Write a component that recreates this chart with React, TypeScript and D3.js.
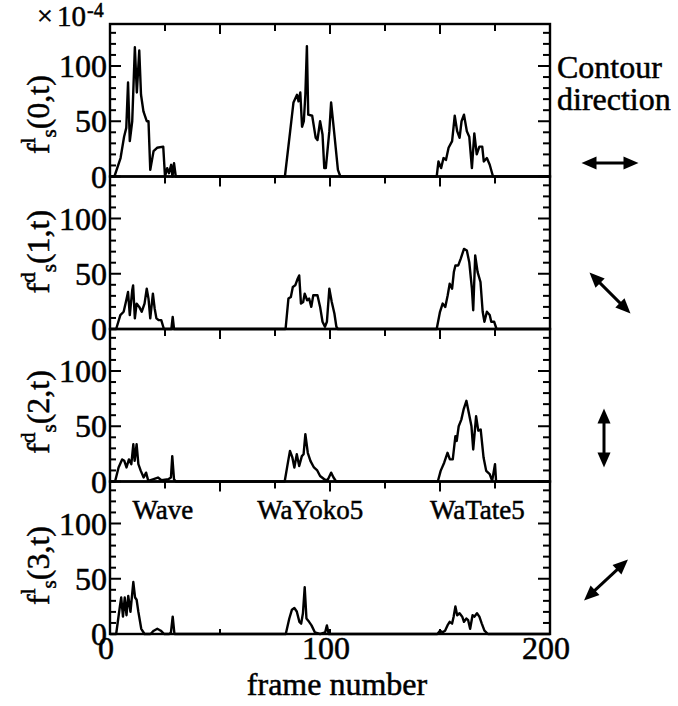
import React from 'react'
import * as d3 from 'd3'

// contour-direction feature f_s(k,t), values in units of 1e-4 as [frame, value]
const dir0: [number, number][] = [
  [0, 0], [2, 0], [4.8, 16.7], [6.4, 36], [7.4, 44], [8.2, 85], [9, 32], [10.1, 50], [11.3, 117],
  [12.2, 76], [13.3, 114], [14.1, 74], [15.2, 59], [16.7, 50], [17.5, 50], [18.3, 6], [19.8, 23],
  [21.4, 26], [24.2, 27], [25, 0], [26, 7.6], [26.8, 3], [27.8, 10.6], [28.4, 0], [29.1, 12], [29.9, 0],
  [79.5, 0], [81.9, 41], [83.4, 67], [85, 74], [85.7, 68], [86.5, 76], [87.3, 45], [88.1, 50], [88.8, 74],
  [89.5, 118], [90.1, 56], [91.9, 55], [93.5, 35], [94.3, 33], [95.5, 50], [96.6, 38], [97.4, 7.6],
  [98.1, 7.6], [99.7, 41], [100.5, 67], [102, 38], [103.6, 6], [104.7, 0],
  [148.5, 0], [149.3, 13.6], [150.5, 7.6], [151.6, 16.7], [152.7, 15], [153.9, 26], [155.5, 32],
  [156.7, 55], [157.8, 41], [158.9, 35], [159.8, 50], [160.9, 56], [162.2, 41], [163.3, 36], [164.5, 7.6],
  [165.6, 39], [166.7, 20], [167.9, 27], [169.2, 27], [169.9, 13.6], [171.3, 16.7], [172.6, 10.6],
  [174.1, 0], [200, 0]
]
const dir1: [number, number][] = [
  [0, 0], [2.8, 0], [4.7, 12.6], [6.2, 15.6], [7.4, 26], [8.2, 33.5], [9, 12.6], [10.1, 35], [10.5, 39.5],
  [11.3, 9.6], [12.1, 23], [13.3, 20], [14.4, 15.6], [15.7, 23], [16.7, 36.5], [17.5, 27.5], [18.3, 9.6],
  [19.5, 32], [20.3, 18.6], [21.1, 9.6], [22.2, 8], [23.3, 8], [24.5, 0], [27.9, 0], [28.5, 11], [29.1, 0],
  [79.8, 0], [81.1, 27.5], [82.2, 29], [83.1, 38], [84.2, 39.5], [85.3, 45.5], [86, 48.5], [86.8, 23],
  [87.8, 24.5], [88.5, 32], [89.6, 26], [90.5, 27.5], [91.5, 20], [92.4, 30.5], [94.3, 30.5], [95.5, 20],
  [96.6, 6.6], [97.7, 2], [98.6, 6.6], [99.7, 36.5], [100.8, 24.5], [102, 14], [102.9, 2], [103.6, 0],
  [148.5, 0], [150, 15.6], [151.2, 23], [152.4, 20], [153.5, 30.5], [154.4, 41], [155.5, 36.5],
  [156.3, 51.5], [157, 57.5], [158.3, 57.5], [159.4, 63.5], [160.9, 72.5], [162.2, 71], [163.3, 60.5],
  [164.5, 36.5], [165.1, 17], [166, 66.5], [167.1, 51.5], [168.4, 42.5], [169.4, 15.6], [170.2, 6.6],
  [171.3, 15.6], [172.6, 12.6], [173.3, 6.6], [174.6, 6.6], [175.7, 0], [200, 0]
]
const dir2: [number, number][] = [
  [0, 0], [2.3, 0], [3.9, 12.7], [5.5, 20], [6.5, 18.7], [7.5, 12.7], [8.6, 20], [9.7, 15.7], [10.6, 33.7],
  [11.2, 18.7], [12.1, 33.7], [12.9, 15.7], [14, 9.6], [15.3, 3.6], [16.4, 8], [17.4, 0.6], [19.5, 2],
  [21.8, 3.6], [23.4, 1.2], [26.5, 2], [27.7, 3.6], [28.3, 23], [29.1, 2], [29.9, 0],
  [79.4, 0], [81, 18.7], [81.8, 27.7], [82.9, 21.7], [83.8, 12.7], [84.9, 24.7], [86, 14], [87.2, 23],
  [88, 24.7], [88.8, 42.8], [89.9, 26], [91.1, 18.7], [92.7, 12.7], [94.2, 10], [95.5, 5], [97.4, 2],
  [98.9, 1.2], [100.5, 8], [101.6, 3.6], [102.8, 0],
  [149, 0], [150.3, 9.6], [151.9, 17], [153.4, 26], [154.5, 20], [155.8, 20], [157, 41], [157.6, 36.7],
  [158.5, 50], [159.7, 56], [160.7, 65], [162, 73], [163.2, 61], [164.3, 50], [165.1, 29], [166.4, 59],
  [167.4, 46], [168.5, 47], [169.8, 21.7], [171, 9.6], [172.6, 6.6], [173.7, 0.6], [175, 15.7],
  [175.5, 0], [200, 0]
]
const dir3: [number, number][] = [
  [0, 0], [2.8, 0], [4.4, 23.5], [5.1, 33], [5.9, 15.7], [6.7, 33], [7.5, 17], [8.3, 34.5], [9.3, 20],
  [10.6, 47], [11.4, 33], [12.1, 31], [12.9, 20], [14.2, 4.7], [15.7, 0], [18.4, 0], [19.9, 3],
  [21.5, 4.7], [23.1, 3], [24.6, 0], [27, 0], [27.7, 1.5], [28.5, 15.7], [29.3, 0],
  [79.9, 0], [81.5, 14], [82.7, 22], [83.8, 23.5], [84.9, 20.4], [86.1, 11], [86.9, 9.4], [87.7, 18.8],
  [88.5, 42.3], [89.3, 14], [90.5, 11], [91.6, 7.8], [93.1, 1.5], [95.5, 0], [97.8, 1.5], [98.6, 7.8],
  [99.4, 0],
  [148.8, 0], [150, 3], [151.2, 1.5], [152.3, 3], [153.4, 7.8], [154.4, 11], [155.5, 9.4], [156.2, 15.7],
  [157, 25], [157.8, 17], [158.9, 18.8], [160.1, 15.7], [160.9, 11], [162, 14], [162.8, 12.5],
  [163.7, 4.7], [164.8, 17], [165.6, 15.7], [166.8, 18.8], [167.9, 15.7], [169, 9.4], [170.2, 3],
  [171.8, 0], [200, 0]
]

const series = [dir0, dir1, dir2, dir3]
const directionIndex = ['0', '1', '2', '3']
const superscripts = ['l', 'd', 'd', 'l']
const yTickLabels = [0, 50, 100]
const xTickLabels = [0, 100, 200]
const sequenceNames = ['Wave', 'WaYoko5', 'WaTate5']
const sequenceCenters = [24, 91, 167]

const FONT = '"Liberation Serif", "Times New Roman", Times, serif'
const W = 678
const H = 706
const left = 110
const right = 550
const top = 24
const panelH = 152.5

// arrow glyphs at the right: centre, angle (deg), length
const arrows = [
  { cx: 610, cy: 163, angle: 0, len: 57 },
  { cx: 610, cy: 293, angle: 45, len: 58 },
  { cx: 604, cy: 438, angle: 90, len: 59 },
  { cx: 606, cy: 580, angle: -43, len: 60 }
]

function Arrow({ cx, cy, angle, len }: { cx: number, cy: number, angle: number, len: number }) {
  const h = len / 2
  const head = 15
  const hw = 6.5
  return (
    <g transform={`translate(${cx},${cy}) rotate(${angle})`}>
      <line x1={-h + head - 1} x2={h - head + 1} y1={0} y2={0} stroke="#000" strokeWidth={3} />
      <polygon points={`${h},0 ${h - head},${-hw} ${h - head},${hw}`} fill="#000" />
      <polygon points={`${-h},0 ${-h + head},${-hw} ${-h + head},${hw}`} fill="#000" />
    </g>
  )
}

const labelCenters = [56, 70, 63, 62]

// text styling: scanned figure reads heavy, so give glyphs a thin outline
const txt = { fontFamily: FONT, fill: '#000', stroke: '#000', strokeWidth: 0.5 }

export default function App() {
  const x = d3.scaleLinear().domain([0, 200]).range([left, right])
  const panels = series.map((data, i) => {
    const y0 = top + i * panelH
    const y = d3.scaleLinear().domain([0, 138]).range([y0 + panelH, y0])
    return { data, y, y0 }
  })
  const line = (y: d3.ScaleLinear<number, number>) =>
    d3.line<[number, number]>().x(d => x(d[0])).y(d => y(d[1]))
  const bottom = top + 4 * panelH
  const yMinor = d3.range(0, 140, 10)
  const xTop = d3.range(25, 200, 25)
  const xBottom = [50, 100, 150]

  return (
    <svg width={W} height={H} style={{ position: 'absolute', left: 0, top: 0, background: '#fff' }}>
      {panels.map(({ data, y, y0 }, i) => (
        <g key={i}>
          <path d={line(y)(data) || ''} fill="none" stroke="#000" strokeWidth={2.4} strokeLinejoin="round" />
          <rect x={left} y={y0} width={right - left} height={panelH} fill="none" stroke="#000" strokeWidth={2.4} />
          {yMinor.map(v => {
            const major = v % 50 === 0
            return (
              <g key={v}>
                <line x1={left} x2={left + (major ? 11 : 6)} y1={y(v)} y2={y(v)} stroke="#000" strokeWidth={2} />
                <line x1={right} x2={right - (major ? 12 : 7)} y1={y(v)} y2={y(v)} stroke="#000" strokeWidth={2} />
              </g>
            )
          })}
          {xTop.map(v => (
            <line key={v} x1={x(v)} x2={x(v)} y1={y0} y2={y0 + (v % 50 === 0 ? 10 : 7)} stroke="#000" strokeWidth={2} />
          ))}
          {yTickLabels.map(v => (
            <text key={v} x={left - 3} y={y(v)} dy="0.35em" textAnchor="end" fontSize={32} style={txt}>{v}</text>
          ))}
          <text transform={`translate(49,${y(labelCenters[i])}) rotate(-90)`} textAnchor="middle" fontSize={32} style={txt}>
            f<tspan fontSize={21} dy={-14}>{superscripts[i]}</tspan>
            <tspan fontSize={21} dy={21}>s</tspan>
            <tspan dy={-7}>({directionIndex[i]},t)</tspan>
          </text>
        </g>
      ))}
      {xBottom.map(v => (
        <line key={v} x1={x(v)} x2={x(v)} y1={bottom} y2={bottom - 5} stroke="#000" strokeWidth={2} />
      ))}
      {xTickLabels.map(v => (
        <text key={v} x={x(v) - 4} y={659} textAnchor="middle" fontSize={32} style={txt}>{v}</text>
      ))}
      <text x={337} y={695} textAnchor="middle" fontSize={32} style={txt}>frame number</text>
      {sequenceNames.map((s, i) => (
        <text key={s} x={x(sequenceCenters[i])} y={panels[3].y(104)} textAnchor="middle" fontSize={27} style={txt}>{s}</text>
      ))}
      <text x={37} y={25} fontSize={28} style={txt}>×</text>
      <text x={57} y={26} fontSize={29} style={txt}>10</text>
      <text x={87} y={17} fontSize={20} style={txt}>-4</text>
      <text x={557} y={78} fontSize={32} style={txt}>Contour</text>
      <text x={557} y={110} fontSize={32} style={txt}>direction</text>
      {arrows.map((a, i) => <Arrow key={i} {...a} />)}
    </svg>
  )
}
